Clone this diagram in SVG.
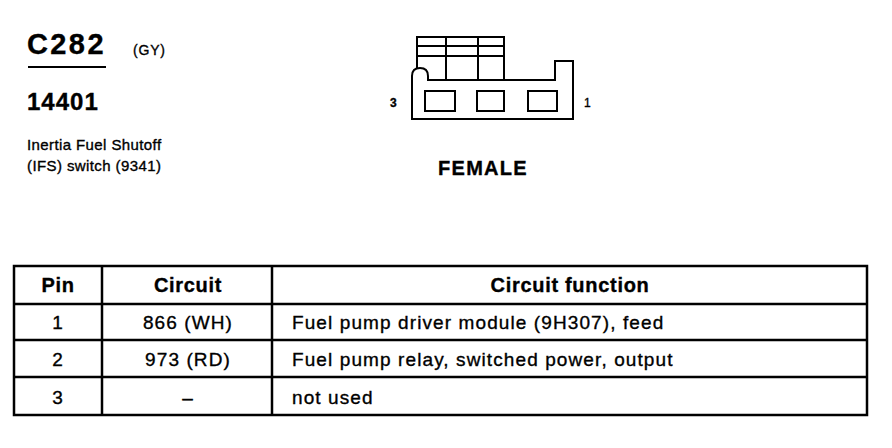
<svg xmlns="http://www.w3.org/2000/svg" width="892" height="448" viewBox="0 0 892 448">
<style>
text{font-family:"Liberation Sans",Arial,sans-serif;fill:#000;stroke:#000;stroke-width:0.35px}
.b{font-weight:bold}
.ln{stroke:#000;fill:none}
.hd{font-size:20px;font-weight:bold;letter-spacing:0.7px}
.cell{font-size:19px;letter-spacing:1.1px}
</style>
<rect width="892" height="448" fill="#fff"/>
<g id="title">
<text x="27" y="54" class="b" font-size="29" letter-spacing="2.4">C282</text>
<line x1="28" y1="67" x2="106" y2="67" class="ln" stroke-width="2"/>
<text x="133" y="55" font-size="14" letter-spacing="0.8">(GY)</text>
<text x="27" y="110" class="b" font-size="24" letter-spacing="1">14401</text>
<text x="27" y="150" font-size="15" letter-spacing="0.4">Inertia Fuel Shutoff</text>
<text x="27" y="171" font-size="15" letter-spacing="0.4">(IFS) switch (9341)</text>
</g>
<g id="connector">
<g class="ln" stroke-width="2">
<rect x="417" y="37" width="87" height="43"/>
<line x1="417" y1="46" x2="504" y2="46"/>
<line x1="417" y1="56" x2="504" y2="56"/>
<line x1="446" y1="37" x2="446" y2="80"/>
<line x1="478" y1="37" x2="478" y2="80"/>
<path d="M412,119 L412,76 Q412,68 420,68 Q428,68 428,76 L428,80 L555,80 L555,61 L573,61 L573,119 Z" fill="#fff"/>
<rect x="425" y="91" width="30" height="20"/>
<rect x="477" y="91" width="27" height="20"/>
<rect x="528" y="91" width="29" height="20"/>
</g>
<text x="390" y="107" font-size="12" class="b">3</text>
<text x="584" y="107" font-size="12">1</text>
<text x="483" y="175" class="b" font-size="20" letter-spacing="1.3" text-anchor="middle">FEMALE</text>
</g>
<g id="table">
<g class="ln" stroke-width="2.5">
<rect x="14" y="266" width="853" height="149"/>
<line x1="14" y1="304" x2="867" y2="304"/>
<line x1="14" y1="340" x2="867" y2="340"/>
<line x1="14" y1="377" x2="867" y2="377"/>
<line x1="102" y1="266" x2="102" y2="415"/>
<line x1="272" y1="266" x2="272" y2="415"/>
</g>
<text x="58" y="292" class="hd" text-anchor="middle">Pin</text>
<text x="188" y="292" class="hd" text-anchor="middle">Circuit</text>
<text x="570" y="292" class="hd" text-anchor="middle">Circuit function</text>
<text x="58" y="329" class="cell" text-anchor="middle">1</text>
<text x="188" y="329" class="cell" text-anchor="middle">866 (WH)</text>
<text x="292" y="329" class="cell">Fuel pump driver module (9H307), feed</text>
<text x="58" y="366" class="cell" text-anchor="middle">2</text>
<text x="188" y="366" class="cell" text-anchor="middle">973 (RD)</text>
<text x="292" y="366" class="cell">Fuel pump relay, switched power, output</text>
<text x="58" y="404" class="cell" text-anchor="middle">3</text>
<text x="188" y="404" class="cell" text-anchor="middle">–</text>
<text x="292" y="404" class="cell">not used</text>
</g>
</svg>
